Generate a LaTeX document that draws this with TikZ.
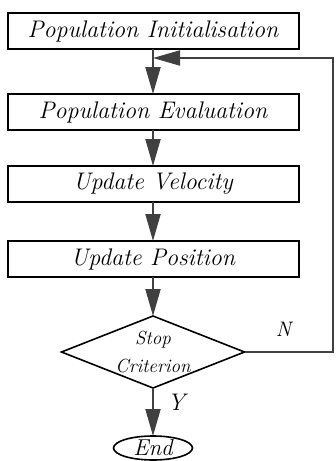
\documentclass[tikz,border=0pt]{standalone}
\usepackage{fontspec}
\usepackage{tikz}
\usetikzlibrary{positioning,arrows.meta,shapes.geometric}

\begin{document}
\begin{tikzpicture}[
x=1pt, y=1pt,
node distance=37pt,
procbox/.style={
draw,
line width=2pt,
outer sep=0pt,
minimum width=291pt,
minimum height=36pt,
font=\fontsize{24}{28}\selectfont\itshape
},
decision/.style={
draw,
diamond,
shape aspect=2.5,
line width=1.6pt,
outer sep=0pt,
inner sep=0pt,
align=center,
minimum width=183pt,
minimum height=72pt,
font=\fontsize{19}{28}\selectfont\itshape
},
terminal/.style={
draw,
ellipse,
line width=1.6pt,
outer sep=0pt,
inner sep=0pt,
minimum width=79pt,
minimum height=24pt,
font=\fontsize{23}{26}\selectfont\itshape
},
arrow/.style={
-{Triangle[length=27pt,width=15pt]},
line width=2pt,
black!75
},
answer/.style={font=\fontsize{24}{26}\selectfont\itshape}
]

\useasboundingbox (0,0) rectangle (336,-461);

\node[procbox] (init) at (153,-31) {Population Initialisation};
\node[procbox] (eval) [below=45pt of init] {Population Evaluation};
\node[procbox] (vel) [below=36pt of eval] {Update Velocity};
\node[procbox] (pos) [below=39pt of vel] {Update Position};
\node[decision] (stop) [below=39pt of pos] {Stop\\Criterion};
\node[terminal] (end) [below=48pt of stop] {End};

\coordinate[below=9pt of init.south] (join);
\coordinate (corner) at (333,-58);

\draw[arrow] (init) -- (eval);
\draw[arrow] (eval) -- (vel);
\draw[arrow] (vel) -- (pos);
\draw[arrow] (pos) -- (stop);
\draw[arrow] (stop) -- node[answer,right=10pt,pos=0.3,black] {Y} (end);

% loop back when the criterion is not met
\draw[arrow] (stop.east) -| node[answer,above=11pt,pos=0.22,black,
font=\fontsize{21}{24}\selectfont\itshape] {N} (corner) -- (join);

\end{tikzpicture}
\end{document}
